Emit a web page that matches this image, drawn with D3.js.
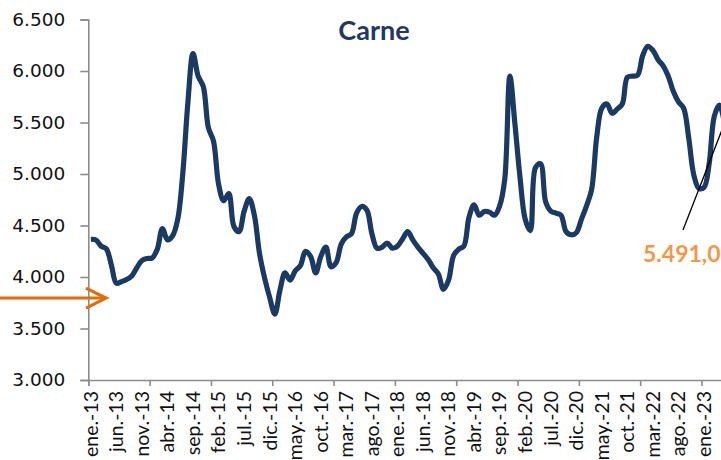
<!DOCTYPE html>
<html>
<head>
<meta charset="utf-8">
<script src="https://cdn.jsdelivr.net/npm/d3@7"></script>
<style>
  body { margin: 0; background: #fff; }
  svg { display: block; }
</style>
</head>
<body>
<svg id="chart" width="721" height="460"></svg>
<script>
// monthly price, ene.-13 .. may.-23
var carne = [
  4366, 4360, 4300, 4275, 4120, 3940, 3955, 3975, 4010, 4090, 4160, 4180,
  4185, 4270, 4470, 4360, 4400, 4560, 5010, 5700, 6170, 5950, 5850, 5450,
  5320, 4900, 4740, 4810, 4490, 4440, 4640, 4760, 4600, 4230, 3990, 3800,
  3640, 3870, 4040, 3970, 4060, 4110, 4250, 4200, 4040, 4200, 4290, 4100,
  4140, 4320, 4390, 4420, 4620, 4685, 4650, 4420, 4280, 4290, 4330, 4280,
  4300, 4370, 4440, 4360, 4290, 4230, 4170, 4090, 4030, 3880, 3970, 4210,
  4270, 4300, 4580, 4700, 4600, 4635, 4630, 4600, 4690, 4950, 5950, 5480,
  4960, 4560, 4450, 5060, 5100, 4730, 4640, 4620, 4600, 4440, 4410, 4430,
  4560, 4690, 4850, 5360, 5640, 5680, 5590, 5630, 5680, 5940, 5950, 5960,
  6150, 6240, 6200, 6110, 6050, 5950, 5800, 5700, 5640, 5350, 4990, 4860,
  4870, 5100, 5560, 5670, 5491
];
var tickLabels = ["ene.-13","jun.-13","nov.-13","abr.-14","sep.-14","feb.-15","jul.-15",
  "dic.-15","may.-16","oct.-16","mar.-17","ago.-17","ene.-18","jun.-18","nov.-18",
  "abr.-19","sep.-19","feb.-20","jul.-20","dic.-20","may.-21","oct.-21","mar.-22",
  "ago.-22","ene.-23"];
var labelStep = 5;      // months between labels
var yearTicks = [0, 12, 24, 36, 48, 60, 72, 84, 96, 108, 120];
var yTicks = [3000, 3500, 4000, 4500, 5000, 5500, 6000, 6500];
var refValue = 3795;    // orange arrow level
var lastLabel = "5.491,0";

var svg = d3.select('#chart');
var x = d3.scaleLinear().domain([0, 125]).range([88.3, 88.3 + 5.11 * 125]);
var y = d3.scaleLinear().domain([3000, 6500]).range([380, 19.5]);
var fmt = d3.formatLocale({decimal: ",", thousands: ".", grouping: [3], currency: ["", ""]}).format(",.0f");

// y axis
var yAxis = svg.append('g').attr('transform', 'translate(' + x(0) + ',0)')
  .call(d3.axisLeft(y).tickValues(yTicks).tickSize(8).tickPadding(15).tickFormat(fmt));
yAxis.selectAll('text').attr('font-family', 'DejaVu Sans').attr('font-size', '18.5px').attr('fill', '#111');

// x axis
var xAxis = svg.append('g').attr('transform', 'translate(0,' + y(3000) + ')')
  .call(d3.axisBottom(x).tickValues(yearTicks).tickSize(6).tickFormat(''));
svg.selectAll('.domain, .tick line').attr('stroke', '#8c8c8c').attr('stroke-width', 1.6);

var xl = svg.append('g').attr('class', 'xlabels');
xl.selectAll('text').data(tickLabels).enter().append('text')
  .attr('transform', function(d, i){ return 'translate(' + x(i * labelStep + 0.5) + ',' + (y(3000) + 11) + ') rotate(-90)'; })
  .attr('dy', '0.35em')
  .attr('text-anchor', 'end')
  .attr('font-family', 'Lato')
  .attr('font-size', '19.5px')
  .attr('fill', '#111')
  .text(function(d){ return d; });

// line
var line = d3.line()
  .x(function(d, i){ return x(i + 0.5); })
  .y(function(d){ return y(d); })
  .curve(d3.curveCatmullRom.alpha(0.5));
svg.append('path').datum(carne)
  .attr('d', line)
  .attr('fill', 'none')
  .attr('stroke', '#1B3A63')
  .attr('stroke-width', 5.2)
  .attr('stroke-linejoin', 'round');

// title
svg.append('text').attr('x', 374).attr('y', 40)
  .attr('text-anchor', 'middle')
  .attr('font-family', 'Lato').attr('font-weight', 'bold').attr('font-size', '27px')
  .attr('fill', '#1F3864')
  .text('Carne');

// orange arrow
var ay = y(refValue);
svg.append('line').attr('x1', 0).attr('y1', ay).attr('x2', 106).attr('y2', ay)
  .attr('stroke', '#E36C0A').attr('stroke-width', 3);
svg.append('path').attr('d', 'M86,' + (ay - 10) + ' L106,' + ay + ' L86,' + (ay + 10))
  .attr('fill', 'none').attr('stroke', '#E36C0A').attr('stroke-width', 3.2);

// last value annotation
var last = carne.length - 1;
svg.append('line').attr('x1', 683).attr('y1', 230).attr('x2', x(last + 0.5)).attr('y2', y(carne[last]))
  .attr('stroke', '#000').attr('stroke-width', 1.3);
svg.append('text').attr('x', 643).attr('y', 262)
  .attr('font-family', 'Lato').attr('font-weight', 'bold').attr('font-size', '23px')
  .attr('fill', '#F79646')
  .text(lastLabel);
</script>
</body>
</html>
